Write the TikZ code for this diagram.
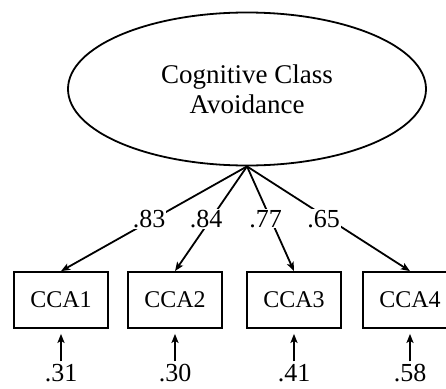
\documentclass[tikz,border=0pt]{standalone}
\usepackage{fontspec}
\setmainfont{Liberation Serif}
\usetikzlibrary{arrows.meta}
\usetikzlibrary{shapes.geometric}

\begin{document}
\begin{tikzpicture} [x=1pt, y=-1pt, line width=1.8pt, >={Stealth[length=9pt, width=7pt, inset=2pt]}]
\useasboundingbox (0,0) rectangle (446,388);
\node[draw, ellipse, minimum width=358pt, minimum height=153pt, align=center, font=\fontsize{27}{30}\selectfont] (cca) at (247,89) {Cognitive Class\\Avoidance};
\foreach \x/\n/\ld/\er in {61/1/.83/.31, 175/2/.84/.30, 294/3/.77/.41, 410/4/.65/.58} {
 \node[draw, minimum width=94pt, minimum height=56pt, font=\fontsize{24}{26}\selectfont] (b\n) at (\x,300) {CCA\n};
 \draw[->] (cca.south) -- (b\n.north) node[midway, xshift=-5pt, fill=white, inner sep=1pt, font=\fontsize{26}{28}\selectfont] {\ld};
 \node[font=\fontsize{26}{28}\selectfont, inner sep=2pt] (e\n) at (\x,373) {\er};
 \draw[->] (e\n.north) -- ([yshift=-5pt]b\n.south);
}
\end{tikzpicture}
\end{document}
